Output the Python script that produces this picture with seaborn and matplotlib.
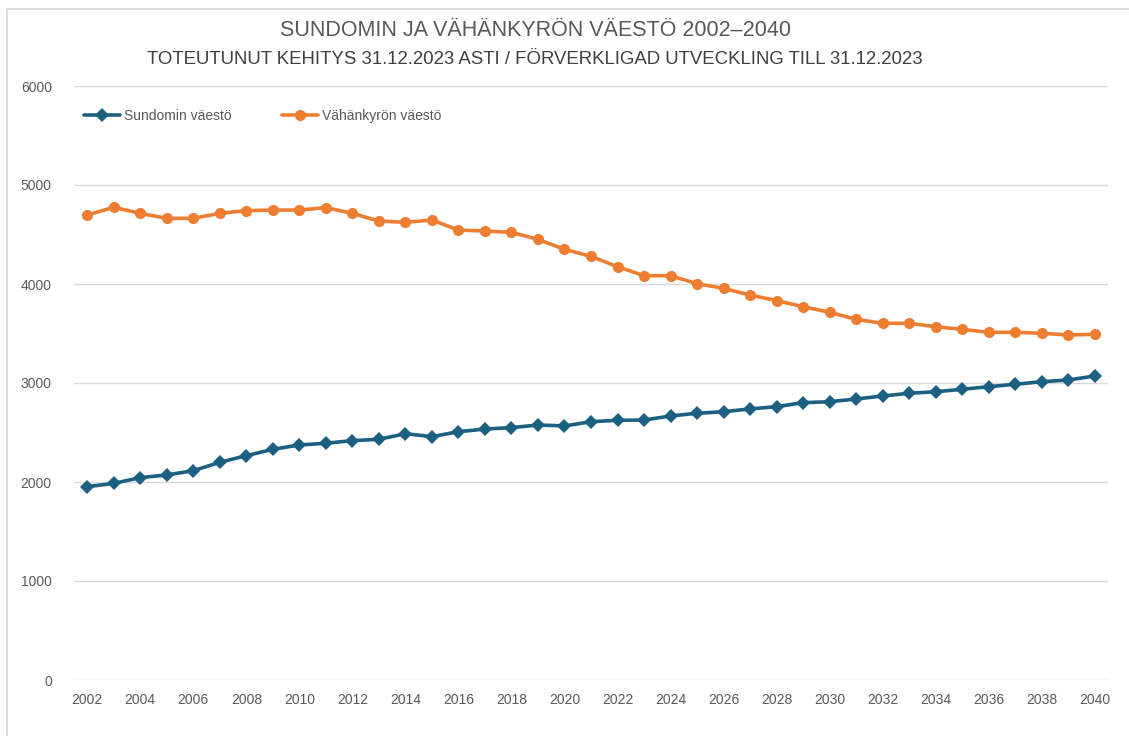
import pandas as pd
import matplotlib.pyplot as plt
import seaborn as sns
from matplotlib import font_manager
from matplotlib.patches import Rectangle

# Population data
years = list(range(2002, 2041))
sundom = [1953, 1986, 2044, 2071, 2114, 2199, 2266, 2330, 2374, 2391,
          2418, 2431, 2488, 2458, 2508, 2535, 2549, 2576, 2566, 2609,
          2623, 2626, 2667, 2694, 2710, 2738, 2761, 2801, 2811, 2838,
          2869, 2896, 2912, 2936, 2963, 2987, 3013, 3030, 3071]
vahakyro = [4697, 4775, 4714, 4663, 4663, 4714, 4741, 4747, 4747, 4771,
            4714, 4636, 4623, 4646, 4545, 4535, 4522, 4451, 4350, 4279,
            4175, 4084, 4084, 4003, 3956, 3889, 3832, 3771, 3714, 3643,
            3603, 3603, 3569, 3542, 3512, 3512, 3502, 3485, 3492]
yticks = [0, 1000, 2000, 3000, 4000, 5000, 6000]
xticks = list(range(2002, 2041, 2))

TITLE = "SUNDOMIN JA VÄHÄNKYRÖN VÄESTÖ 2002–2040"
SUBTITLE = "TOTEUTUNUT KEHITYS 31.12.2023 ASTI / FÖRVERKLIGAD UTVECKLING TILL 31.12.2023"

BLUE = "#1b5f83"
ORANGE = "#ed7d31"
GREY = "#595959"

sns.set_style("white")

# prefer a narrow font like the original (Arial Narrow look)
installed = {f.name for f in font_manager.fontManager.ttflist}
families = [f for f in ["Liberation Sans Narrow", "Liberation Sans", "DejaVu Sans"] if f in installed]
plt.rcParams["font.family"] = families

df = pd.DataFrame({"year": years, "Sundomin väestö": sundom, "Vähänkyrön väestö": vahakyro})

fig = plt.figure(figsize=(11.29, 7.36), dpi=100)
ax = fig.add_axes([74 / 1129, 1 - 680 / 736, (1108 - 74) / 1129, (680 - 86) / 736])

sns.lineplot(data=df, x="year", y="Sundomin väestö", ax=ax, color=BLUE, linewidth=2.6,
             marker="D", markersize=7.5, markeredgewidth=0, label="Sundomin väestö")
sns.lineplot(data=df, x="year", y="Vähänkyrön väestö", ax=ax, color=ORANGE, linewidth=2.6,
             marker="o", markersize=8, markeredgewidth=0, label="Vähänkyrön väestö")

ax.set_xlim(2001.5, 2040.5)
ax.set_ylim(0, 6000)
ax.set_yticks(yticks)
ax.set_xticks(xticks)
ax.set_xticklabels([str(x) for x in xticks])
ax.set_xlabel("")
ax.set_ylabel("")
ax.grid(axis="y", color="#d9d9d9", linewidth=1)
ax.set_axisbelow(True)
for s in ax.spines.values():
    s.set_visible(False)
ax.tick_params(axis="both", length=0, labelsize=10, colors=GREY)
ax.tick_params(axis="y", pad=16)
ax.tick_params(axis="x", pad=9)

leg = ax.legend(loc="upper left", bbox_to_anchor=(0.0, 0.978), ncol=2, frameon=False,
                fontsize=10, handlelength=2.6, handletextpad=0.3, columnspacing=3.6,
                borderaxespad=0.3)
for t in leg.get_texts():
    t.set_color(GREY)

fig.text(535 / 1129, 1 - 30 / 736, TITLE, ha="center", va="center", fontsize=15.5, color=GREY)
fig.text(535 / 1129, 1 - 60 / 736, SUBTITLE, ha="center", va="center", fontsize=13.4, color="#404040")

# light chart-area border
fig.patches.append(Rectangle((7 / 1129, -0.1), 1.2, 1 - 9 / 736 + 0.1, transform=fig.transFigure,
                             fill=False, edgecolor="#d9d9d9", linewidth=1.2))

fig.savefig("out.png", dpi=100)
